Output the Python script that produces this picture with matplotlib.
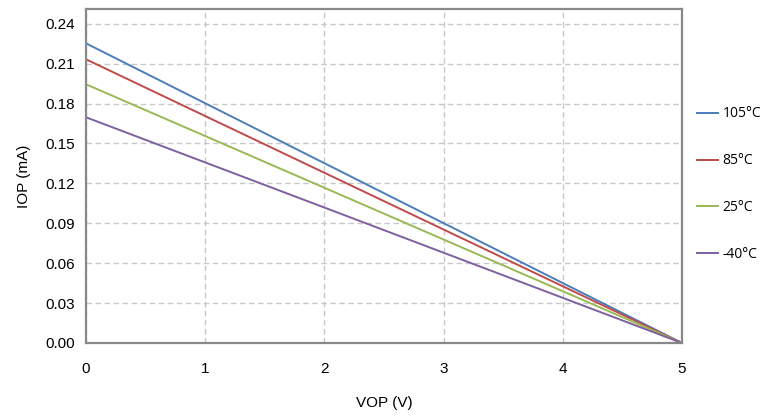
import matplotlib.pyplot as plt
import numpy as np

# data
vop = [0, 5]
series = {
    '105°C': [0.2253, 0.0],
    '85°C': [0.2133, 0.0],
    '25°C': [0.1945, 0.0],
    '-40°C': [0.1697, 0.0],
}
colors = ['#4a7ebb', '#be4b48', '#98b954', '#7d60a0']
yticks = np.arange(0, 0.25, 0.03)

plt.rcParams['font.family'] = ['Liberation Sans', 'DejaVu Sans']

fig = plt.figure(figsize=(7.63, 4.19), dpi=100)
ax = fig.add_axes([0.1127, 0.1814, 0.7811, 0.7971])

for (label, vals), c in zip(series.items(), colors):
    ax.plot(vop, vals, color=c, lw=1.4, label=label)

ax.set_xlim(0, 5)
ax.set_ylim(0, 0.2511)
ax.set_xticks(range(6))
ax.set_yticks(yticks)
ax.set_yticklabels([f'{v:.2f}' for v in yticks])
ax.tick_params(length=0, labelsize=11, colors='black')
ax.tick_params(axis='x', pad=14)
ax.tick_params(axis='y', pad=8)
ax.grid(True, ls=(0, (4, 2.5)), color='#c8c8c8', lw=1)
for s in ax.spines.values():
    s.set_color('#898989')
    s.set_linewidth(1.6)

ax.set_xlabel('VOP (V)', fontsize=11, labelpad=14)
ax.set_ylabel('IOP (mA)', fontsize=11, labelpad=10)

leg = ax.legend(loc='center left', bbox_to_anchor=(1.005, 0.475), frameon=False,
                handlelength=1.5, handletextpad=0.3, labelspacing=2.3,
                prop={'family': 'Open Sans', 'size': 10})

fig.savefig('out.png', dpi=100)
